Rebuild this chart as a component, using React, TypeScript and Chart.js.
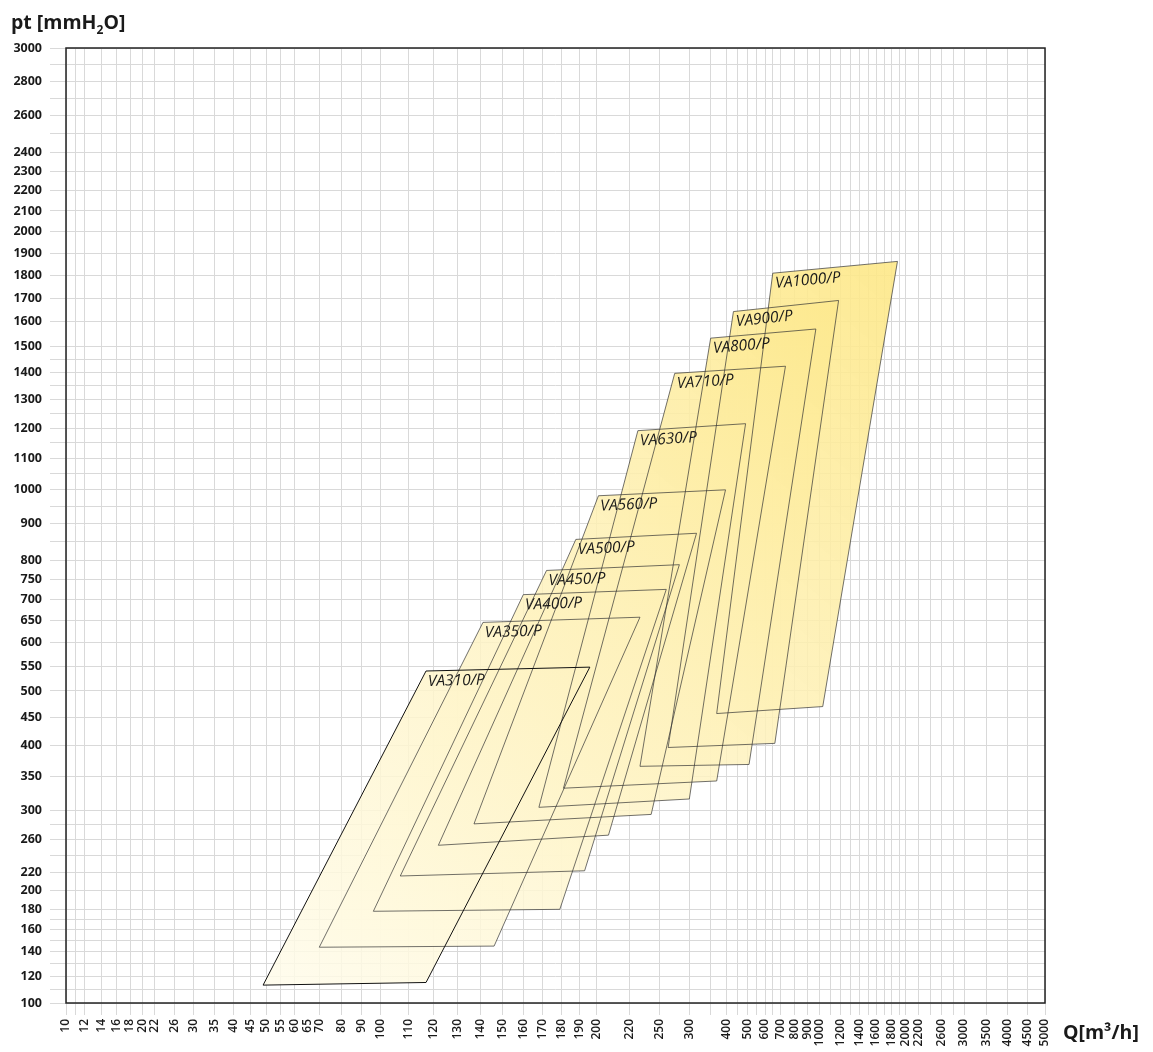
import { useEffect, useRef } from "react";
import { Chart, registerables, LinearScale } from "chart.js";

Chart.register(...registerables);

// fan models and the four corners of each working field
const MODELS = ["VA310/P", "VA350/P", "VA400/P", "VA450/P", "VA500/P", "VA560/P", "VA630/P", "VA710/P", "VA800/P", "VA900/P", "VA1000/P"];
// Q [m3/h]
const Q_LOW_LEFT = [49, 70, 96, 107, 122, 137, 168, 181, 230, 263, 368];
const Q_HIGH_LEFT = [117, 141, 160, 172, 188, 201, 228, 274, 350, 431, 650];
const Q_HIGH_RIGHT = [196, 230, 260, 282, 316, 396, 491, 732, 970, 1176, 1875];
const Q_LOW_RIGHT = [117, 146, 179, 193, 207, 241, 300, 368, 509, 663, 1029];
// pt [mmH2O]
const PT_LOW_LEFT = [113, 144, 178, 216, 253, 281, 304, 332, 366, 397, 457];
const PT_HIGH_LEFT = [540, 646, 712, 773, 856, 982, 1191, 1397, 1534, 1643, 1809];
const PT_HIGH_RIGHT = [548, 658, 725, 788, 873, 1000, 1215, 1424, 1571, 1690, 1862];
const PT_LOW_RIGHT = [115, 145, 180, 222, 266, 294, 316, 343, 369, 404, 470];

// tick labels
const Q_LABELS = [10, 12, 14, 16, 18, 20, 22, 26, 30, 35, 40, 45, 50, 55, 60, 65, 70, 80, 90, 100, 110, 120, 130, 140, 150, 160, 170, 180, 190, 200, 220, 250, 300, 400, 500, 600, 700, 800, 900, 1000, 1200, 1400, 1600, 1800, 2000, 2200, 2600, 3000, 3500, 4000, 4500, 5000];
const Q_MINOR = [11, 350, 450, 550, 650, 1100, 1300, 1500, 1700, 1900, 2400, 2800];
const PT_LABELS = [100, 120, 140, 160, 180, 200, 220, 260, 300, 350, 400, 450, 500, 550, 600, 650, 700, 750, 800, 900, 1000, 1100, 1200, 1300, 1400, 1500, 1600, 1700, 1800, 1900, 2000, 2100, 2200, 2300, 2400, 2600, 2800, 3000];
const PT_MINOR = [110, 130, 150, 170, 240, 280, 850, 950, 1050, 1150, 1250, 1350, 1450, 2500, 2700, 2900];

// the Q axis of the original sheet is hand divided: [value, % of axis length]
const Q_AXIS = [
  [10, 0], [11, 0.99], [12, 1.94], [14, 3.65], [16, 5.18], [18, 6.54], [20, 7.83], [22, 9.02], [26, 11.13],
  [30, 13.04], [35, 15.19], [40, 17.09], [45, 18.87], [50, 20.43], [55, 21.93], [60, 23.39], [70, 25.87],
  [80, 28.16], [90, 30.2], [100, 32.15], [110, 34.96], [120, 37.52], [130, 40.01], [140, 42.36], [150, 44.61],
  [160, 46.71], [170, 48.69], [180, 50.63], [190, 52.43], [200, 54.21], [220, 57.54], [250, 60.67], [300, 63.67],
  [350, 65.85], [400, 67.49], [450, 68.57], [500, 69.59], [550, 70.55], [600, 71.4], [650, 72.19], [700, 73],
  [800, 74.46], [900, 75.72], [1000, 76.95], [1100, 78.11], [1200, 79.16], [1300, 80.18], [1400, 81.1],
  [1500, 81.95], [1600, 82.74], [1700, 83.59], [1800, 84.34], [1900, 85.12], [2000, 85.8], [2200, 87.06],
  [2400, 88.32], [2600, 89.45], [2800, 90.63], [3000, 91.73], [3500, 94.04], [4000, 96.15], [4500, 98.19], [5000, 100],
];
const PT_EXPONENT = 0.36;

const qToAxis = (v: number) => {
  if (v <= Q_AXIS[0][0]) return Q_AXIS[0][1];
  for (let i = 0; i < Q_AXIS.length - 1; i++) {
    const [a, pa] = Q_AXIS[i];
    const [b, pb] = Q_AXIS[i + 1];
    if (v <= b) return pa + (Math.log(v / a) / Math.log(b / a)) * (pb - pa);
  }
  return Q_AXIS[Q_AXIS.length - 1][1];
};
const axisToQ = (p: number) => {
  for (let i = 0; i < Q_AXIS.length - 1; i++) {
    const [a, pa] = Q_AXIS[i];
    const [b, pb] = Q_AXIS[i + 1];
    if (p <= pb) return a * Math.pow(b / a, (p - pa) / (pb - pa));
  }
  return Q_AXIS[Q_AXIS.length - 1][0];
};

function makeScale(id: string, t: (v: number) => number, inv: (u: number) => number) {
  return class extends LinearScale {
    static id = id;
    static defaults = {};
    getPixelForValue(value: number) {
      if (value === null || value === undefined || isNaN(value)) return NaN;
      const a = t(this.min);
      const b = t(this.max);
      return this.getPixelForDecimal((t(value) - a) / (b - a));
    }
    getValueForPixel(pixel: number) {
      const a = t(this.min);
      const b = t(this.max);
      return inv(a + this.getDecimalForPixel(pixel) * (b - a));
    }
  };
}

Chart.register(
  makeScale("qsheet", qToAxis, axisToQ) as any,
  makeScale("power", (v) => Math.pow(v, PT_EXPONENT), (u) => Math.pow(u, 1 / PT_EXPONENT)) as any,
);

const GRID = "#d9d9d9";
const FONT = "'Open Sans', sans-serif";

const fieldGradient = (ctx: any) => {
  const chart = ctx.chart;
  const a = chart.chartArea;
  if (!a) return "rgba(253,240,180,0.8)";
  const w = a.right - a.left;
  const h = a.bottom - a.top;
  const g = chart.ctx.createLinearGradient(a.left + 0.2 * w, a.bottom, a.left + 0.85 * w, a.top + 0.2 * h);
  g.addColorStop(0, "rgba(255,252,236,0.85)");
  g.addColorStop(0.5, "rgba(254,242,190,0.85)");
  g.addColorStop(1, "rgba(253,231,132,0.9)");
  return g;
};

const frameAndText = {
  id: "frameAndText",
  afterDatasetsDraw(chart: any) {
    const { ctx, chartArea: a } = chart;
    ctx.save();
    // model names along the top edge of each field
    chart.data.datasets.forEach((_: any, i: number) => {
      const pts = chart.getDatasetMeta(i).data;
      const tl = pts[1];
      const tr = pts[2];
      ctx.save();
      ctx.translate(tl.x, tl.y);
      ctx.rotate(Math.atan2(tr.y - tl.y, tr.x - tl.x));
      ctx.font = `italic 15.5px ${FONT}`;
      ctx.fillStyle = "#1a1a1a";
      ctx.textAlign = "left";
      ctx.textBaseline = "alphabetic";
      ctx.fillText(MODELS[i], 1.5, 15);
      ctx.restore();
    });
    ctx.strokeStyle = "#222";
    ctx.lineWidth = 1.5;
    ctx.strokeRect(a.left, a.top, a.right - a.left, a.bottom - a.top);
    ctx.restore();
  },
  afterDraw(chart: any) {
    const { ctx, chartArea: a } = chart;
    ctx.save();
    ctx.fillStyle = "#1a1a1a";
    ctx.textBaseline = "alphabetic";
    ctx.textAlign = "left";
    const big = `bold 19.5px ${FONT}`;
    const small = `bold 12px ${FONT}`;
    let x = 11;
    ctx.font = big;
    ctx.fillText("pt [mmH", x, 29);
    x += ctx.measureText("pt [mmH").width;
    ctx.font = small;
    ctx.fillText("2", x, 34);
    x += ctx.measureText("2").width;
    ctx.font = big;
    ctx.fillText("O]", x, 29);
    ctx.fillText("Q[m³/h]", a.right + 18, 1039);
    ctx.restore();
  },
};

const App = () => {
  const canvasRef = useRef<HTMLCanvasElement>(null);

  useEffect(() => {
    if (!canvasRef.current) return;

    const datasets = MODELS.map((name, i) => ({
      label: name,
      data: [
        { x: Q_LOW_LEFT[i], y: PT_LOW_LEFT[i] },
        { x: Q_HIGH_LEFT[i], y: PT_HIGH_LEFT[i] },
        { x: Q_HIGH_RIGHT[i], y: PT_HIGH_RIGHT[i] },
        { x: Q_LOW_RIGHT[i], y: PT_LOW_RIGHT[i] },
        { x: Q_LOW_LEFT[i], y: PT_LOW_LEFT[i] },
      ],
      showLine: true,
      fill: "shape",
      backgroundColor: fieldGradient,
      borderColor: i === 0 ? "#111" : "#333",
      borderWidth: i === 0 ? 1 : 0.7,
      pointRadius: 0,
      tension: 0,
    }));

    const chart = new Chart(canvasRef.current, {
      type: "scatter",
      data: { datasets },
      plugins: [frameAndText],
      options: {
        animation: false,
        responsive: true,
        maintainAspectRatio: false,
        layout: { padding: { top: 48, right: 108, left: 0, bottom: 0 } },
        plugins: {
          legend: { display: false },
          tooltip: { enabled: false },
          filler: { drawTime: "beforeDatasetsDraw" },
        },
        scales: {
          x: {
            type: "qsheet",
            min: 10,
            max: 5000,
            afterBuildTicks: (scale: any) => {
              scale.ticks = [...Q_LABELS, ...Q_MINOR].sort((a, b) => a - b).map((value) => ({ value }));
            },
            afterFit: (scale: any) => {
              scale.height = 49;
            },
            grid: {
              color: (c: any) => (c.tick && c.tick.value === 65 ? "rgba(0,0,0,0)" : GRID),
              lineWidth: 1,
              tickLength: 12,
            },
            border: { display: false },
            ticks: {
              autoSkip: false,
              minRotation: 90,
              maxRotation: 90,
              padding: 4,
              color: "#1a1a1a",
              font: { family: FONT, size: 12, weight: "600" },
              callback: (value: any) => (Q_LABELS.includes(Number(value)) ? String(value) : ""),
            },
          } as any,
          y: {
            type: "power",
            min: 100,
            max: 3000,
            afterBuildTicks: (scale: any) => {
              scale.ticks = [...PT_LABELS, ...PT_MINOR].sort((a, b) => a - b).map((value) => ({ value }));
            },
            afterFit: (scale: any) => {
              scale.width = 66;
            },
            grid: { color: GRID, lineWidth: 1, tickLength: 16 },
            border: { display: false },
            ticks: {
              autoSkip: false,
              padding: 8,
              color: "#1a1a1a",
              font: { family: FONT, size: 12.5, weight: "700" },
              callback: (value: any) => (PT_LABELS.includes(Number(value)) ? String(value) : ""),
            },
          } as any,
        },
      },
    });

    return () => {
      chart.destroy();
    };
  }, []);

  return (
    <div style={{ position: "fixed", left: 0, top: 0, width: 1153, height: 1052, background: "#fff" }}>
      <canvas ref={canvasRef}></canvas>
    </div>
  );
};

export default App;
